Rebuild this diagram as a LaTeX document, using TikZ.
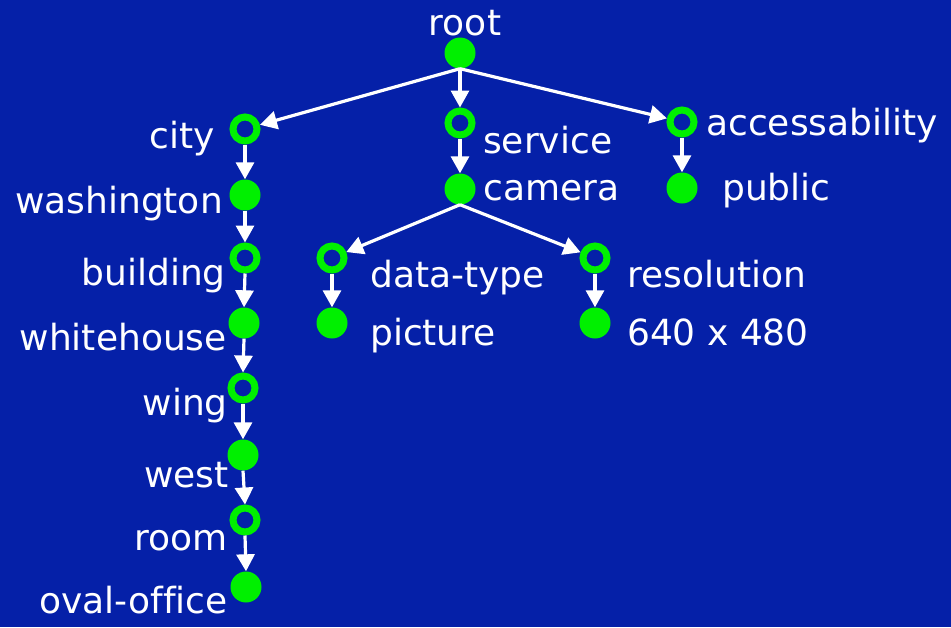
\documentclass[tikz,border=0pt]{standalone}
\usepackage{fontspec}
\setmainfont{DejaVu Sans}[Ligatures=NoCommon]
\usetikzlibrary{arrows.meta}
\definecolor{bg}{RGB}{5,32,168}
\definecolor{lime}{RGB}{0,240,0}
\begin{document}
\begin{tikzpicture}[x=1pt,y=-1pt,
  full/.style={circle,fill=lime,minimum size=31pt,inner sep=0pt},
  ring/.style={circle,draw=lime,line width=7pt,minimum size=24pt,inner sep=0pt},
  lbl/.style={text=white,font=\fontsize{36}{42}\selectfont,inner sep=0pt},
  edge/.style={draw=white,line width=3.2pt,-{Triangle[width=18pt,length=17pt]}}]
\fill[bg] (0,0) rectangle (951,627);
\useasboundingbox (0,0) rectangle (951,627);
% nodes
\node[full] (root) at (460,53) {};
\node[ring] (city) at (245,129) {};
\node[full] (wash) at (245,195) {};
\node[ring] (build) at (245,258) {};
\node[full] (white) at (244,323) {};
\node[ring] (wing) at (243,388) {};
\node[full] (west) at (243,455) {};
\node[ring] (room) at (245,520) {};
\node[full] (oval) at (246,587) {};
\node[ring] (serv) at (460,123) {};
\node[full] (cam) at (460,189) {};
\node[ring] (acc) at (682,122) {};
\node[full] (pub) at (682,188) {};
\node[ring] (dt) at (332,258) {};
\node[full] (pic) at (332,323) {};
\node[ring] (res) at (595,258) {};
\node[full] (six) at (595,323) {};
% labels
\node[lbl,anchor=base] (lroot) at (465,35) {root};
\node[lbl,anchor=base east] (lcity) at (215,148) {city};
\node[lbl,anchor=base east] (lwash) at (223,213) {washington};
\node[lbl,anchor=base east] (lbuild) at (226,285) {building};
\node[lbl,anchor=base east] (lwhite) at (227,350) {whitehouse};
\node[lbl,anchor=base east] (lwing) at (228,415) {wing};
\node[lbl,anchor=base east] (lwest) at (229,487) {west};
\node[lbl,anchor=base east] (lroom) at (228,550) {room};
\node[lbl,anchor=base east] (loval) at (228,613) {oval-office};
\node[lbl,anchor=base west] (lserv) at (483,153) {service};
\node[lbl,anchor=base west] (lcam) at (483,200) {camera};
\node[lbl,anchor=base west] (lacc) at (706,135) {accessability};
\node[lbl,anchor=base west] (lpub) at (722,200) {public};
\node[lbl,anchor=base west] (ldt) at (370,287) {data-type};
\node[lbl,anchor=base west] (lpic) at (370,345) {picture};
\node[lbl,anchor=base west] (lres) at (627,287) {resolution};
\node[lbl,anchor=base west] (lsix) at (627,345) {640 x 480};
% edges
\draw[edge] (root.south) -- (city);
\draw[edge] (root) -- (serv);
\draw[edge] (root.south) -- (acc);
\draw[edge] (city.south) -- (wash.north);
\draw[edge] (wash.south) -- (build.north);
\draw[edge] (build.south) -- (white.north);
\draw[edge] (white.south) -- (wing.north);
\draw[edge] (wing.south) -- (west.north);
\draw[edge] (west.south) -- (room.north);
\draw[edge] (room.south) -- (oval.north);
\draw[edge] (serv.south) -- (cam.north);
\draw[edge] (cam.south) -- (dt);
\draw[edge] (cam.south) -- (res);
\draw[edge] (dt.south) -- (pic.north);
\draw[edge] (res.south) -- (six.north);
\draw[edge] (acc.south) -- (pub.north);
\end{tikzpicture}
\end{document}
